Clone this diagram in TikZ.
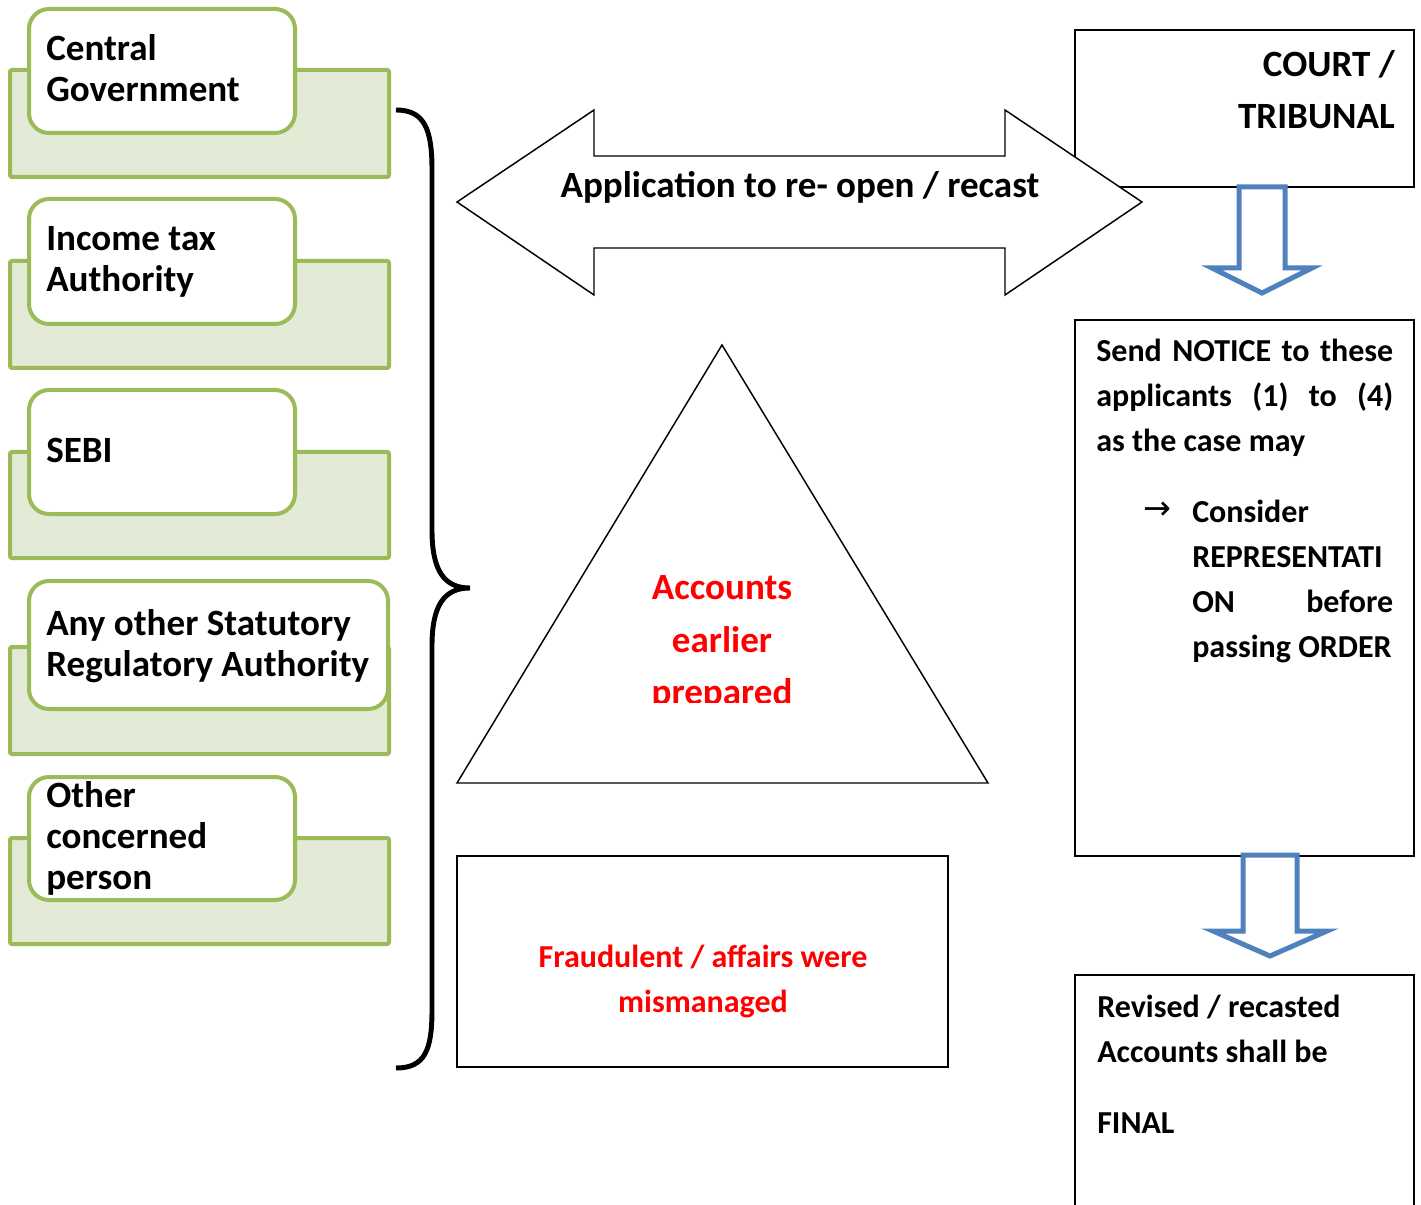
\documentclass[tikz,border=0pt]{standalone}
\usepackage{fontspec}
\setmainfont{Carlito}
\newfontfamily\symfont{DejaVu Sans}
\definecolor{leafline}{HTML}{9BBB59}
\definecolor{leaffill}{HTML}{E3EBD6}
\definecolor{flowblue}{HTML}{4F81BD}
\definecolor{alertred}{HTML}{FF0000}
% rectangle node from its top-left and bottom-right corners (picture units)
\newcommand\pxbox[6]{\node[#2, anchor=north west, inner sep=0pt, outer sep=0pt,
  minimum width={(#5-#3)*0.75pt}, minimum height={(#6-#4)*0.75pt}] (#1) at (#3,#4) {};}
\begin{document}
\begin{tikzpicture}[x=0.75pt, y=-0.75pt,
  backbox/.style={draw=leafline, fill=leaffill, line width=3pt, rounded corners=1.5pt},
  frontbox/.style={draw=leafline, fill=white, line width=3pt, rounded corners=15pt},
  plainbox/.style={draw=black, line width=1.1pt, fill=white},
  big/.style={font=\fontsize{27.8}{30}\selectfont\bfseries, inner sep=0pt},
  mid/.style={font=\fontsize{24}{28}\selectfont\bfseries, inner sep=0pt},
  hollow/.style={draw=flowblue, line width=3.75pt, fill=white, line join=miter},
  outline/.style={draw=black, line width=1.1pt, fill=white, line join=miter},
]
\useasboundingbox (0,0) rectangle (1421,1205);

% ---- authorities on the left ----
\pxbox{cgback}{backbox}{10}{70}{389}{177}
\pxbox{cg}{frontbox}{29}{9}{295}{133}
\node[big, anchor=base west] (cg1) at (46,61) {Central};
\node[big, anchor=base west] (cg2) at (46,102) {Government};

\pxbox{itback}{backbox}{10}{261}{389}{368}
\pxbox{it}{frontbox}{29}{199}{295}{324}
\node[big, anchor=base west] (it1) at (46,251) {Income tax};
\node[big, anchor=base west] (it2) at (46,292) {Authority};

\pxbox{sebiback}{backbox}{10}{452}{389}{558}
\pxbox{sebi}{frontbox}{29}{390}{295}{514}
\node[big, anchor=base west] (sebi1) at (46,463) {SEBI};

\pxbox{regback}{backbox}{10}{647}{389}{754}
\pxbox{reg}{frontbox}{29}{581}{388}{709}
\node[big, anchor=base west] (reg1) at (46,635) {Any other Statutory};
\node[big, anchor=base west] (reg2) at (46,676) {Regulatory Authority};

\pxbox{othback}{backbox}{10}{838}{389}{944}
\pxbox{oth}{frontbox}{29}{777}{295}{900}
\node[big, anchor=base west] (oth1) at (46,807) {Other};
\node[big, anchor=base west] (oth2) at (46,848) {concerned};
\node[big, anchor=base west] (oth3) at (46,889) {person};

% ---- grouping brace ----
\draw[line width=3.7pt] (396,110) .. controls (425,110) and (432,130) .. (432,170)
  -- (432,530) .. controls (432,572) and (445,588) .. (470,588)
  .. controls (445,588) and (432,604) .. (432,646)
  -- (432,1010) .. controls (432,1050) and (425,1068) .. (396,1068);

% ---- court / tribunal ----
\pxbox{court}{plainbox}{1075}{30}{1414}{187}
\node[big, anchor=base east] (court1) at (1395,77) {COURT /};
\node[big, anchor=base east] (court2) at (1395,129) {TRIBUNAL};

% ---- two-way application arrow ----
\draw[outline] (457,202) -- (594,110) -- (594,156) -- (1005,156) -- (1005,110)
  -- (1142,202) -- (1005,295) -- (1005,248) -- (594,248) -- (594,295) -- cycle;
\node[big, anchor=base] (appl) at (800,198) {Application to re- open / recast};

% ---- accounts triangle ----
\draw[outline] (722,345) -- (988,783) -- (457,783) -- cycle;
\begin{scope}
  \clip (560,540) rectangle (880,702);
  \node[big, anchor=base, text=alertred] (acc1) at (722,599) {Accounts};
  \node[big, anchor=base, text=alertred] (acc2) at (722,652) {earlier};
  \node[big, anchor=base, text=alertred] (acc3) at (722,704) {prepared};
\end{scope}

% ---- fraud box ----
\pxbox{fraud}{plainbox}{457}{856}{948}{1067}
\node[mid, anchor=base, text=alertred] (fr1) at (703,967) {Fraudulent / affairs were};
\node[mid, anchor=base, text=alertred] (fr2) at (703,1012) {mismanaged};

% ---- notice box ----
\pxbox{notice}{plainbox}{1075}{320}{1414}{856}
\node[mid, anchor=base west] (n1) at (1096,362) {\makebox[222.75pt][s]{Send NOTICE to these}};
\node[mid, anchor=base west] (n2) at (1096,407) {\makebox[222.75pt][s]{applicants (1) to (4)}};
\node[mid, anchor=base west] (n3) at (1096,452) {as the case may};
\node[mid, anchor=base west] (nb) at (1143,519) {\symfont\mdseries\fontsize{25}{26}\selectfont →};
\node[mid, anchor=base west] (n4) at (1192,522) {Consider};
\node[mid, anchor=base west] (n5) at (1192,567) {REPRESENTATI};
\node[mid, anchor=base west] (n6) at (1192,612) {\makebox[150.75pt][s]{ON before}};
\node[mid, anchor=base west] (n7) at (1192,657) {passing ORDER};

% ---- final accounts box ----
\pxbox{final}{plainbox}{1075}{975}{1414}{1215}
\node[mid, anchor=base west] (f1) at (1097,1017) {Revised / recasted};
\node[mid, anchor=base west] (f2) at (1097,1062) {Accounts shall be};
\node[mid, anchor=base west] (f3) at (1097,1133) {FINAL};

% ---- hollow flow arrows ----
\draw[hollow] (1239,187) -- (1285,187) -- (1285,268) -- (1312,268) -- (1262,293)
  -- (1212,268) -- (1239,268) -- cycle;
\draw[hollow] (1243,855) -- (1297,855) -- (1297,931) -- (1327,931) -- (1270,956)
  -- (1213,931) -- (1243,931) -- cycle;
\end{tikzpicture}
\end{document}
